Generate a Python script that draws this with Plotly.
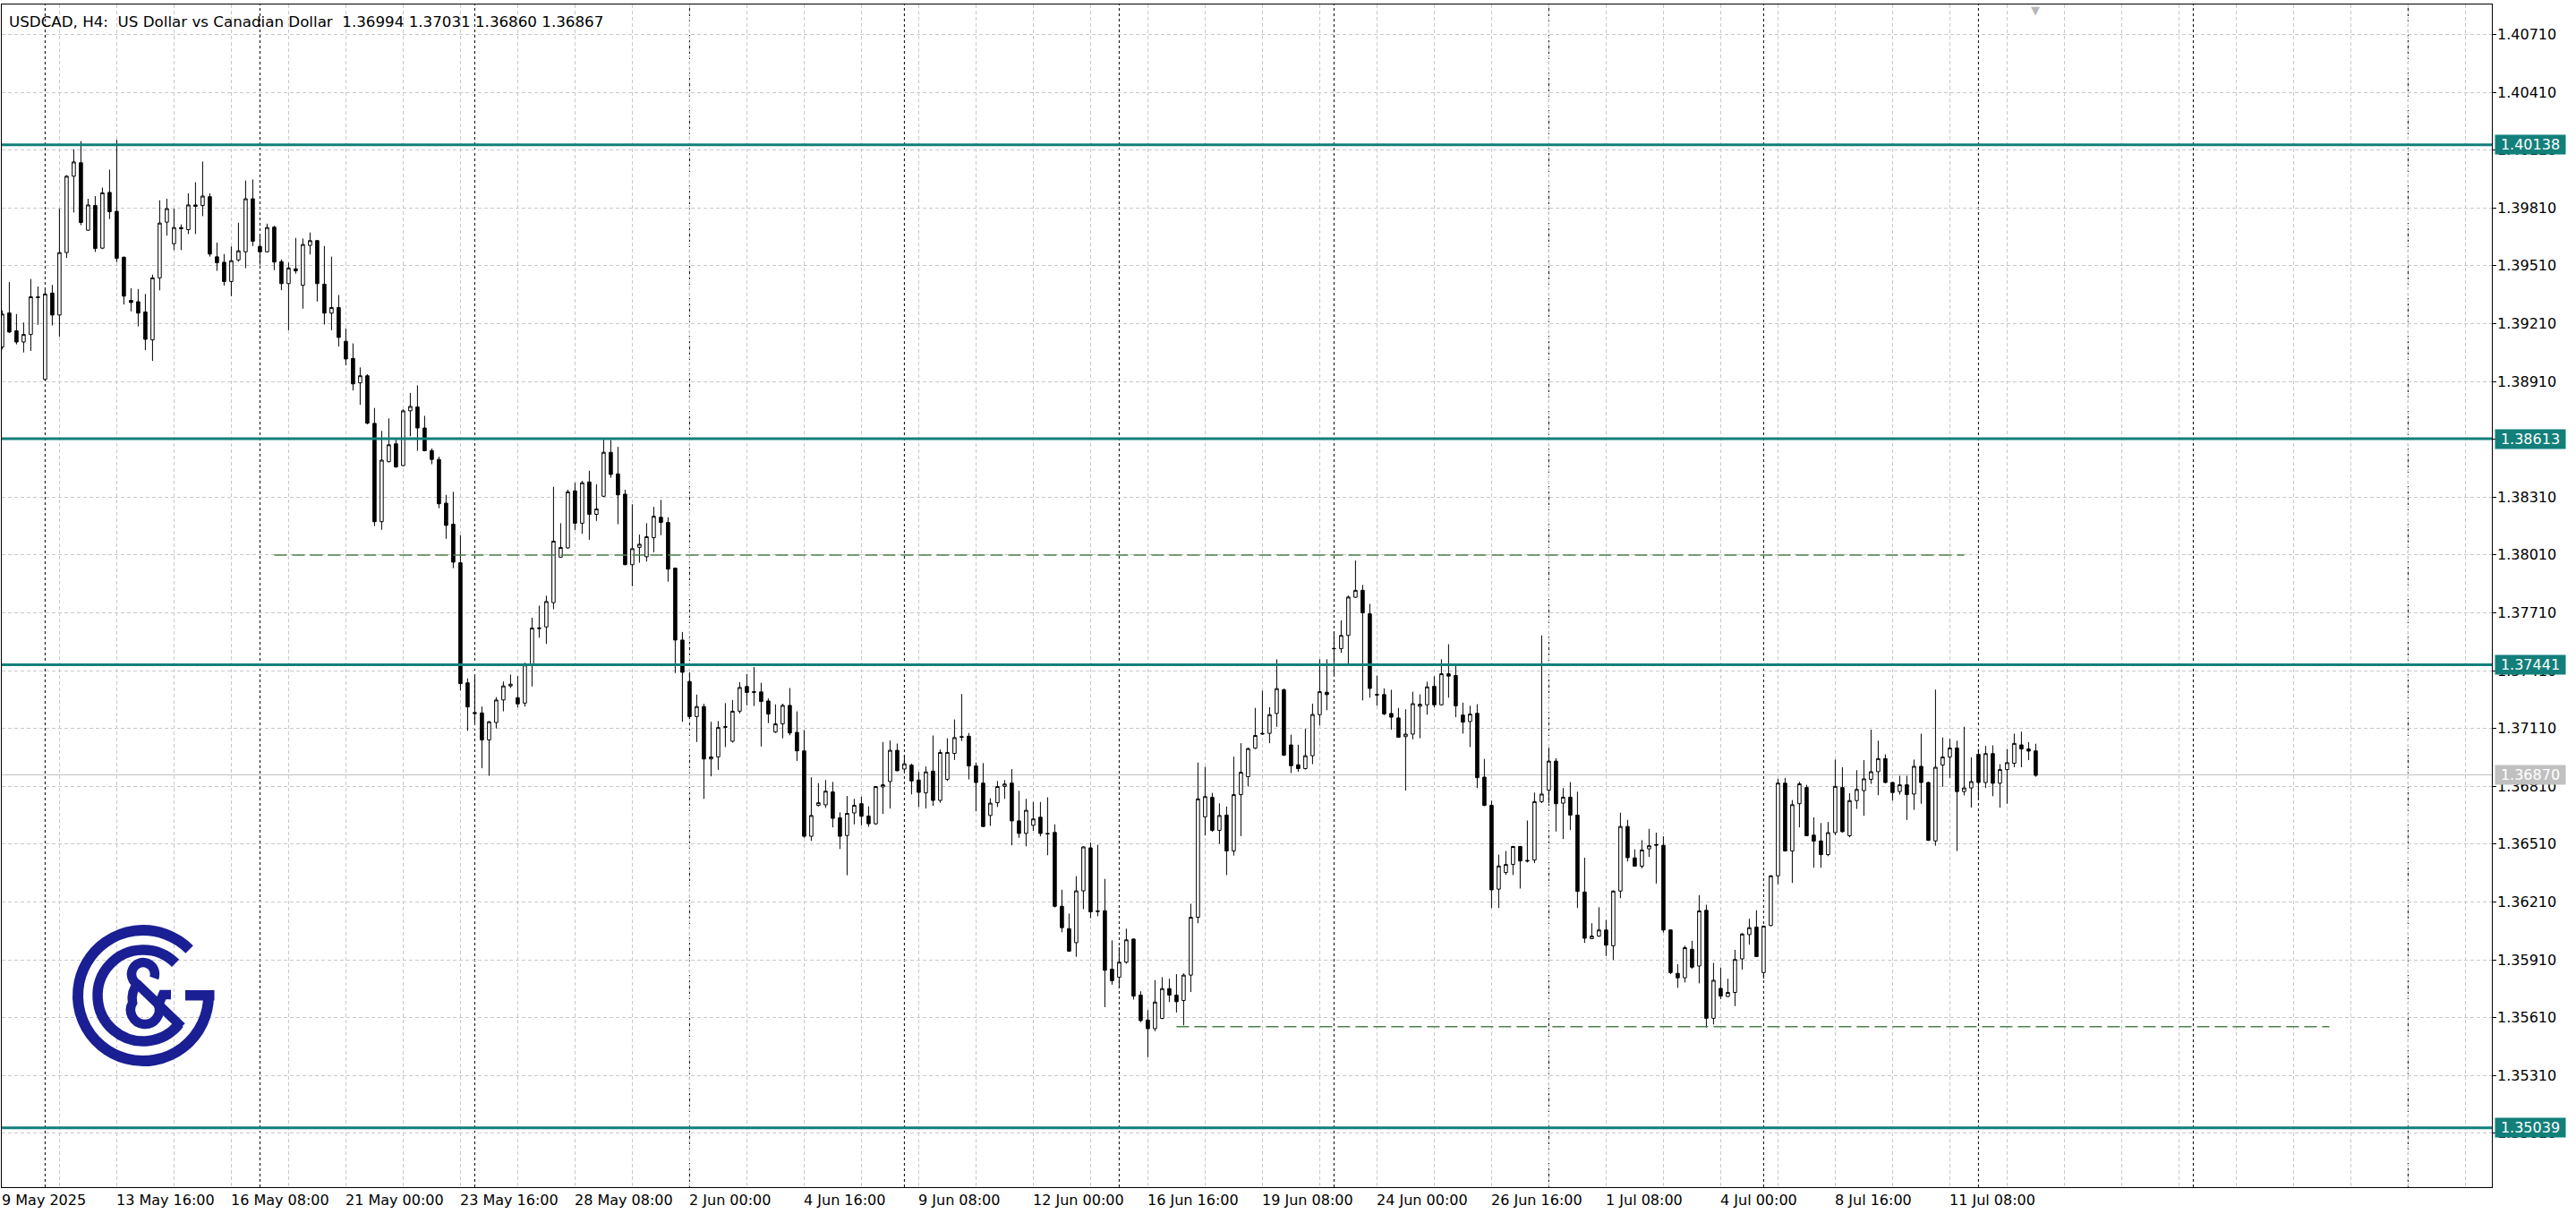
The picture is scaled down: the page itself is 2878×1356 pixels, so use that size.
import base64
import plotly.graph_objects as go

# ---------------- data (USDCAD H4) ----------------
symbol = "USDCAD"
timeframe = "H4"
description = "US Dollar vs Canadian Dollar"

opens = [
1.39089,1.39266,1.39173,1.39115,1.39154,1.39349,1.38921,1.39369,1.39255,1.39579,
1.39975,1.40045,1.39695,1.39823,1.39602,1.39891,1.39793,1.39555,1.39331,1.39324,
1.39271,1.39126,1.39448,1.39737,1.39625,1.39709,1.39698,1.39826,1.39823,1.39869,
1.39557,1.39529,1.39429,1.39541,1.39583,1.39858,1.39611,1.39583,1.39711,1.39532,
1.39418,1.39495,1.39409,1.39616,1.39641,1.39415,1.39265,1.39294,1.39119,1.39030,
1.38903,1.38940,1.38693,1.38183,1.38494,1.38587,1.38474,1.38758,1.38778,1.38669,
1.38552,1.38506,1.38279,1.38170,1.37970,1.37347,1.37193,1.37191,1.37051,1.37141,
1.37258,1.37331,1.37270,1.37242,1.37440,1.37632,1.37637,1.37763,1.37999,1.38047,
1.38343,1.38175,1.38389,1.38221,1.38315,1.38543,1.38431,1.38326,1.37960,1.38050,
1.38001,1.38100,1.38206,1.38179,1.37942,1.37569,1.37354,1.37172,1.37224,1.36952,
1.36963,1.37120,1.37044,1.37200,1.37328,1.37301,1.37300,1.37253,1.37092,1.37134,
1.37230,1.37090,1.36994,1.36551,1.36711,1.36714,1.36781,1.36647,1.36555,1.36672,
1.36720,1.36656,1.36616,1.36807,1.36835,1.36997,1.36900,1.36920,1.36843,1.36776,
1.36889,1.36737,1.36846,1.36981,1.37068,1.37070,1.36916,1.36827,1.36659,1.36725,
1.36810,1.36827,1.36631,1.36566,1.36608,1.36650,1.36566,1.36571,1.36188,1.36072,
1.35999,1.36268,1.36491,1.36164,1.36165,1.35862,1.35820,1.35898,1.36018,1.35727,
1.35598,1.35553,1.35606,1.35761,1.35727,1.35699,1.35831,1.36131,1.36652,1.36753,
1.36582,1.36661,1.36475,1.36767,1.36860,1.37008,1.37085,1.37085,1.37188,1.37311,
1.37025,1.36922,1.36902,1.36969,1.37182,1.37298,1.37524,1.37524,1.37593,1.37791,
1.37827,1.37705,1.37287,1.37286,1.37188,1.37165,1.37068,1.37081,1.37225,1.37233,
1.37329,1.37233,1.37394,1.37385,1.37180,1.37146,1.37189,1.36858,1.36712,1.36277,
1.36363,1.36405,1.36498,1.36426,1.36428,1.36731,1.36790,1.36941,1.36723,1.36754,
1.36661,1.36262,1.36020,1.36033,1.36065,1.35983,1.36267,1.36602,1.36439,1.36396,
1.36486,1.36508,1.36504,1.36065,1.35840,1.35817,1.35965,1.35878,1.36167,1.35607,
1.35762,1.35720,1.35741,1.35915,1.36041,1.36080,1.35844,1.36088,1.36346,1.36827,
1.36475,1.36720,1.36804,1.36557,1.36527,1.36456,1.36570,1.36804,1.36554,1.36736,
1.36788,1.36846,1.36886,1.36954,1.36830,1.36783,1.36818,1.36770,1.36914,1.36830,
1.36527,1.36921,1.36962,1.37009,1.36783,1.36802,1.36976,1.36830,1.36980,1.36826,
1.36897,1.36930,1.37025,1.37004,1.36994]

highs = [
1.39279,1.39426,1.39260,1.39216,1.39442,1.39403,1.39387,1.39411,1.39807,1.39981,
1.40115,1.40157,1.39858,1.39872,1.39916,1.40009,1.40164,1.39558,1.39394,1.39390,
1.39364,1.39465,1.39850,1.39858,1.39807,1.39725,1.39886,1.39944,1.40051,1.39886,
1.39631,1.39571,1.39611,1.39734,1.39953,1.39958,1.39667,1.39729,1.39718,1.39543,
1.39527,1.39655,1.39652,1.39683,1.39644,1.39613,1.39558,1.39359,1.39185,1.39108,
1.38983,1.38948,1.38773,1.38654,1.38719,1.38610,1.38766,1.38851,1.38890,1.38732,
1.38563,1.38520,1.38322,1.38338,1.38113,1.37370,1.37382,1.37224,1.37149,1.37273,
1.37354,1.37390,1.37382,1.37452,1.37685,1.37747,1.37799,1.38364,1.38175,1.38349,
1.38385,1.38395,1.38447,1.38377,1.38610,1.38607,1.38571,1.38349,1.38273,1.38116,
1.38175,1.38260,1.38296,1.38206,1.37945,1.37611,1.37401,1.37286,1.37238,1.37145,
1.37149,1.37242,1.37258,1.37351,1.37393,1.37429,1.37347,1.37266,1.37235,1.37239,
1.37320,1.37199,1.37103,1.36857,1.36827,1.36843,1.36833,1.36675,1.36760,1.36745,
1.36756,1.36706,1.36810,1.37040,1.37048,1.37032,1.36970,1.36928,1.36885,1.36913,
1.37074,1.37001,1.37059,1.37157,1.37289,1.37087,1.36934,1.36931,1.36748,1.36838,
1.36843,1.36900,1.36787,1.36745,1.36729,1.36729,1.36753,1.36613,1.36274,1.36150,
1.36344,1.36499,1.36519,1.36507,1.36330,1.36011,1.35976,1.36072,1.36021,1.35747,
1.35649,1.35805,1.35820,1.35812,1.35836,1.35840,1.36201,1.36934,1.36911,1.36776,
1.36722,1.36705,1.36964,1.37034,1.37011,1.37217,1.37306,1.37221,1.37469,1.37318,
1.37078,1.37026,1.37109,1.37239,1.37469,1.37469,1.37609,1.37671,1.37800,1.37982,
1.37855,1.37757,1.37384,1.37318,1.37311,1.37217,1.37210,1.37301,1.37287,1.37353,
1.37381,1.37469,1.37547,1.37438,1.37244,1.37228,1.37236,1.36952,1.36736,1.36456,
1.36475,1.36501,1.36501,1.36633,1.36778,1.37593,1.37011,1.36956,1.36801,1.36832,
1.36782,1.36440,1.36100,1.36183,1.36117,1.36270,1.36673,1.36636,1.36483,1.36531,
1.36590,1.36570,1.36551,1.36068,1.35888,1.35983,1.36009,1.36246,1.36196,1.35894,
1.35870,1.35812,1.35962,1.36049,1.36123,1.36167,1.36088,1.36349,1.36849,1.36854,
1.36739,1.36834,1.36818,1.36649,1.36620,1.36625,1.36949,1.36909,1.36775,1.36894,
1.36946,1.37104,1.37047,1.36976,1.36834,1.36865,1.36865,1.36949,1.37083,1.36834,
1.37312,1.37064,1.37056,1.37047,1.37119,1.36960,1.37004,1.37020,1.37023,1.36925,
1.37004,1.37083,1.37094,1.37039,1.37031]

lows = [
1.39077,1.39162,1.39103,1.39061,1.39069,1.39204,1.38918,1.39201,1.39143,1.39551,
1.39787,1.39721,1.39692,1.39582,1.39597,1.39753,1.39530,1.39310,1.39274,1.39196,
1.39073,1.39017,1.39383,1.39667,1.39592,1.39592,1.39675,1.39675,1.39768,1.39558,
1.39484,1.39408,1.39353,1.39532,1.39498,1.39613,1.39516,1.39580,1.39488,1.39384,
1.39176,1.39470,1.39288,1.39569,1.39325,1.39206,1.39176,1.39092,1.38994,1.38864,
1.38789,1.38688,1.38160,1.38141,1.38491,1.38463,1.38471,1.38626,1.38551,1.38548,
1.38481,1.38253,1.38094,1.37942,1.37308,1.37098,1.37141,1.36904,1.36865,1.37110,
1.37199,1.37320,1.37219,1.37224,1.37328,1.37581,1.37549,1.37729,1.37996,1.38043,
1.38139,1.38120,1.38089,1.38187,1.38310,1.38411,1.38170,1.37957,1.37848,1.37970,
1.37976,1.38024,1.38113,1.37872,1.37398,1.37145,1.37160,1.37040,1.36745,1.36862,
1.36896,1.37014,1.37037,1.37188,1.37230,1.37227,1.37017,1.37138,1.37087,1.37059,
1.37075,1.36942,1.36543,1.36527,1.36706,1.36698,1.36597,1.36485,1.36349,1.36613,
1.36608,1.36600,1.36610,1.36667,1.36695,1.36889,1.36885,1.36768,1.36703,1.36695,
1.36709,1.36725,1.36838,1.36947,1.37045,1.36846,1.36680,1.36599,1.36605,1.36703,
1.36745,1.36504,1.36543,1.36499,1.36579,1.36551,1.36453,1.36182,1.36053,1.35952,
1.35926,1.36173,1.36126,1.36136,1.35665,1.35781,1.35763,1.35890,1.35704,1.35587,
1.35405,1.35540,1.35603,1.35691,1.35637,1.35570,1.35743,1.36100,1.36555,1.36574,
1.36512,1.36350,1.36451,1.36552,1.36809,1.37004,1.37078,1.37034,1.37119,1.36967,
1.36879,1.36886,1.36897,1.36925,1.37127,1.37205,1.37391,1.37503,1.37435,1.37788,
1.37256,1.37270,1.37228,1.37179,1.37104,1.37062,1.36788,1.37054,1.37060,1.37182,
1.37220,1.37230,1.37270,1.37169,1.37084,1.37014,1.36801,1.36708,1.36179,1.36179,
1.36350,1.36350,1.36280,1.36415,1.36412,1.36723,1.36723,1.36576,1.36537,1.36583,
1.36179,1.35998,1.36017,1.36030,1.35930,1.35910,1.36230,1.36420,1.36393,1.36384,
1.36444,1.36306,1.36052,1.35836,1.35765,1.35793,1.35864,1.35788,1.35559,1.35575,
1.35706,1.35717,1.35670,1.35859,1.35989,1.35926,1.35812,1.36085,1.36302,1.36472,
1.36309,1.36597,1.36551,1.36388,1.36388,1.36448,1.36557,1.36570,1.36546,1.36693,
1.36657,1.36823,1.36764,1.36827,1.36736,1.36767,1.36636,1.36688,1.36720,1.36527,
1.36502,1.36807,1.36854,1.36475,1.36763,1.36700,1.36744,1.36802,1.36759,1.36700,
1.36720,1.36909,1.36909,1.36946,1.36860]

closes = [
1.39260,1.39167,1.39115,1.39154,1.39350,1.39346,1.39364,1.39255,1.39579,1.39975,
1.40049,1.39735,1.39826,1.39600,1.39889,1.39791,1.39549,1.39353,1.39320,1.39265,
1.39129,1.39448,1.39732,1.39807,1.39709,1.39703,1.39826,1.39819,1.39872,1.39571,
1.39526,1.39429,1.39537,1.39588,1.39858,1.39638,1.39583,1.39709,1.39530,1.39418,
1.39499,1.39484,1.39621,1.39641,1.39418,1.39265,1.39294,1.39139,1.39027,1.38898,
1.38940,1.38694,1.38183,1.38502,1.38582,1.38467,1.38758,1.38781,1.38669,1.38551,
1.38506,1.38276,1.38164,1.37973,1.37343,1.37222,1.37188,1.37051,1.37145,1.37258,
1.37331,1.37340,1.37238,1.37440,1.37631,1.37629,1.37769,1.38082,1.38049,1.38338,
1.38175,1.38385,1.38221,1.38249,1.38543,1.38428,1.38322,1.37960,1.38043,1.38066,
1.38105,1.38211,1.38179,1.37937,1.37569,1.37402,1.37172,1.37224,1.36952,1.36963,
1.37115,1.37117,1.37200,1.37323,1.37297,1.37298,1.37250,1.37185,1.37134,1.37230,
1.37087,1.36994,1.36551,1.36659,1.36725,1.36785,1.36644,1.36551,1.36670,1.36712,
1.36655,1.36616,1.36809,1.36818,1.36997,1.36891,1.36927,1.36838,1.36779,1.36885,
1.36737,1.36986,1.36986,1.37063,1.37065,1.36916,1.36830,1.36602,1.36723,1.36809,
1.36822,1.36631,1.36566,1.36686,1.36641,1.36566,1.36563,1.36188,1.36077,1.35955,
1.36268,1.36496,1.36159,1.36161,1.35856,1.35802,1.35898,1.36014,1.35722,1.35595,
1.35553,1.35691,1.35761,1.35727,1.35693,1.35831,1.36131,1.36745,1.36757,1.36582,
1.36659,1.36475,1.36767,1.36883,1.37006,1.37074,1.37082,1.37182,1.37317,1.36972,
1.36917,1.36902,1.36969,1.37183,1.37301,1.37286,1.37525,1.37593,1.37792,1.37827,
1.37710,1.37318,1.37284,1.37186,1.37169,1.37065,1.37081,1.37239,1.37236,1.37326,
1.37233,1.37394,1.37382,1.37228,1.37143,1.37185,1.36855,1.36711,1.36273,1.36397,
1.36405,1.36498,1.36423,1.36423,1.36731,1.36770,1.36941,1.36720,1.36754,1.36661,
1.36265,1.36022,1.36033,1.36065,1.35986,1.36267,1.36602,1.36440,1.36396,1.36480,
1.36502,1.36505,1.36065,1.35844,1.35817,1.35973,1.35872,1.36164,1.35607,1.35804,
1.35722,1.35741,1.35912,1.36044,1.36077,1.35927,1.36085,1.36346,1.36827,1.36475,
1.36715,1.36823,1.36554,1.36526,1.36456,1.36570,1.36810,1.36575,1.36736,1.36794,
1.36849,1.36886,1.36954,1.36830,1.36778,1.36818,1.36767,1.36914,1.36830,1.36530,
1.36909,1.36962,1.37009,1.36783,1.36802,1.36835,1.36830,1.36980,1.36826,1.36897,
1.36933,1.37033,1.37004,1.36993,1.36867]

bars = list(range(len(opens)))

# time-axis labels (bar index -> label)
time_label_bars = [0, 16, 32, 48, 64, 80, 96, 112, 128, 144, 160, 176, 192, 208, 224, 240, 256, 272]
time_label_text = ["9 May 2025", "13 May 16:00", "16 May 08:00", "21 May 00:00", "23 May 16:00",
                   "28 May 08:00", "2 Jun 00:00", "4 Jun 16:00", "9 Jun 08:00", "12 Jun 00:00",
                   "16 Jun 16:00", "19 Jun 08:00", "24 Jun 00:00", "26 Jun 16:00", "1 Jul 08:00",
                   "4 Jul 00:00", "8 Jul 16:00", "11 Jul 08:00"]
# first bar of each week (period separators)
week_start_bars = [6, 36, 66, 96, 126, 156, 186, 216, 246, 276, 306, 336]
grid_bars = list(range(0, 348, 8))

# price-axis ticks
price_ticks = [1.35010, 1.35310, 1.35610, 1.35910, 1.36210, 1.36510, 1.36810, 1.37110,
               1.37410, 1.37710, 1.38010, 1.38310, 1.38610, 1.38910, 1.39210, 1.39510,
               1.39810, 1.40110, 1.40410, 1.40710]

# horizontal levels
levels = [1.40138, 1.38613, 1.37441, 1.35039]
bid_price = 1.36870
trend_bar_start = [38, 164]
trend_bar_end = [274, 325]
trend_price = [1.38010, 1.35563]

x_range = [-0.05, 347.7]
y_range = [1.34731, 1.40866]

# ---------------- figure ----------------
W, H = 2878, 1356
ML, MR, MT, MB = 2, 94, 5, 30
FONT = "DejaVu Sans"
TEAL = "#137f7a"

fig = go.Figure()
fig.add_trace(go.Candlestick(
    x=bars, open=opens, high=highs, low=lows, close=closes,
    increasing=dict(line=dict(color="black", width=1), fillcolor="white"),
    decreasing=dict(line=dict(color="black", width=1), fillcolor="black"),
    whiskerwidth=0, showlegend=False, hoverinfo="skip",
))

shapes = []
for b in week_start_bars:
    shapes.append(dict(type="line", xref="x", yref="paper", x0=b, x1=b, y0=0, y1=1,
                       line=dict(color="black", width=1, dash="3px,3px"), layer="between"))
shapes.append(dict(type="line", xref="paper", yref="y", x0=0, x1=1, y0=bid_price, y1=bid_price,
                   line=dict(color="#c0c0c0", width=1), layer="between"))
for lv in levels:
    shapes.append(dict(type="line", xref="paper", yref="y", x0=0, x1=1, y0=lv, y1=lv,
                       line=dict(color=TEAL, width=3), layer="above"))
for b0, b1, p in zip(trend_bar_start, trend_bar_end, trend_price):
    shapes.append(dict(type="line", xref="x", yref="y", x0=b0, x1=b1, y0=p, y1=p,
                       line=dict(color="#4d7f4d", width=1.5, dash="14px,6px"), layer="above"))

annotations = []
title_text = (f"{symbol}, {timeframe}:\u00a0\u00a0{description}\u00a0\u00a0"
              f"{opens[-1]:.5f} {highs[-1]:.5f} {lows[-1]:.5f} {closes[-1]:.5f}")
annotations.append(dict(text=title_text, xref="paper", yref="paper", x=0, y=1,
                        xanchor="left", yanchor="top", xshift=6, yshift=-7, showarrow=False,
                        font=dict(family=FONT, size=16.7, color="black")))
for b, t in zip(time_label_bars, time_label_text):
    annotations.append(dict(text=t, xref="x", yref="paper", x=b, y=0, xanchor="left",
                            yanchor="top", xshift=-2, yshift=-3, showarrow=False,
                            font=dict(family=FONT, size=16, color="black")))
# price-scale labels
for p in price_ticks:
    annotations.append(dict(text=f"{p:.5f}", xref="paper", yref="y", x=1, y=p,
                            xanchor="left", yanchor="middle", xshift=4, showarrow=False,
                            borderpad=1, font=dict(family=FONT, size=16, color="black")))
for lv in levels:
    annotations.append(dict(text=f"{lv:.5f}", xref="paper", yref="y", x=1, y=lv,
                            xanchor="left", yanchor="middle", xshift=3, showarrow=False,
                            bgcolor=TEAL, width=78, height=21, borderpad=0,
                            font=dict(family=FONT, size=16, color="white")))
annotations.append(dict(text=f"{bid_price:.5f}", xref="paper", yref="y", x=1, y=bid_price,
                        xanchor="left", yanchor="middle", xshift=3, showarrow=False,
                        bgcolor="#c0c0c0", width=78, height=21, borderpad=0,
                        font=dict(family=FONT, size=16, color="white")))
annotations.append(dict(text="\u25bc", xref="x", yref="paper", x=bars[-1], y=1,
                        xanchor="center", yanchor="top", yshift=3, showarrow=False,
                        font=dict(family=FONT, size=13, color="#b8b8b8")))

# logo (decorative image)
BLUE = "#1a1f94"
svg = f'''<svg xmlns="http://www.w3.org/2000/svg" width="220" height="220" viewBox="0 0 220 220">
<g fill="none" stroke="{BLUE}" stroke-linecap="butt" stroke-linejoin="miter">
<path d="M 161.6 60.4 A 73 73 0 1 0 183 112" stroke-width="12"/>
<rect x="157" y="106" width="32.5" height="11.5" fill="{BLUE}" stroke="none"/>
<path d="M 146.1 75.9 A 51 51 0 1 0 150.2 143.4" stroke-width="11.5"/>
<path d="M 122.2 92.4 A 13 13 0 1 0 103.5 99.3 L 153 147" stroke-width="10.5"/>
<path d="M 103.5 99.3 Q 96 108 98.1 120 A 16 16 0 1 0 127 122.5 L 132 111 L 141 111" stroke-width="10.5"/>
</g></svg>'''
logo_src = "data:image/svg+xml;base64," + base64.b64encode(svg.encode()).decode()
pw, ph = W - ML - MR, H - MT - MB
images = [dict(source=logo_src, xref="paper", yref="paper",
               x=(50 - ML) / pw, y=1 - (1000 - MT) / ph, sizex=220 / pw, sizey=220 / ph,
               xanchor="left", yanchor="top", sizing="stretch", layer="above")]

fig.update_layout(
    width=W, height=H, autosize=False, margin=dict(l=ML, r=MR, t=MT, b=MB, pad=0),
    paper_bgcolor="white", plot_bgcolor="white", boxgap=0.36,
    shapes=shapes, annotations=annotations, images=images, showlegend=False,
    xaxis=dict(range=x_range, autorange=False, rangeslider=dict(visible=False),
               tickvals=grid_bars, automargin=False,
               showticklabels=False, ticks="", showgrid=True, gridcolor="#c8c8c8",
               griddash="4px,3px", gridwidth=1, zeroline=False, showline=True,
               mirror=True, linecolor="black", linewidth=1),
    yaxis=dict(range=y_range, autorange=False, side="right", tickvals=price_ticks,
               automargin=False, showticklabels=False, showgrid=True,
               gridcolor="#c8c8c8", griddash="4px,3px", gridwidth=1, zeroline=False,
               ticks="outside", ticklen=4, tickcolor="black", showline=True, mirror=True,
               linecolor="black", linewidth=1),
)

fig.write_html("out.html", config={"responsive": False, "displayModeBar": False},
               post_script="document.body.style.margin='0';document.body.style.overflow='hidden';")
